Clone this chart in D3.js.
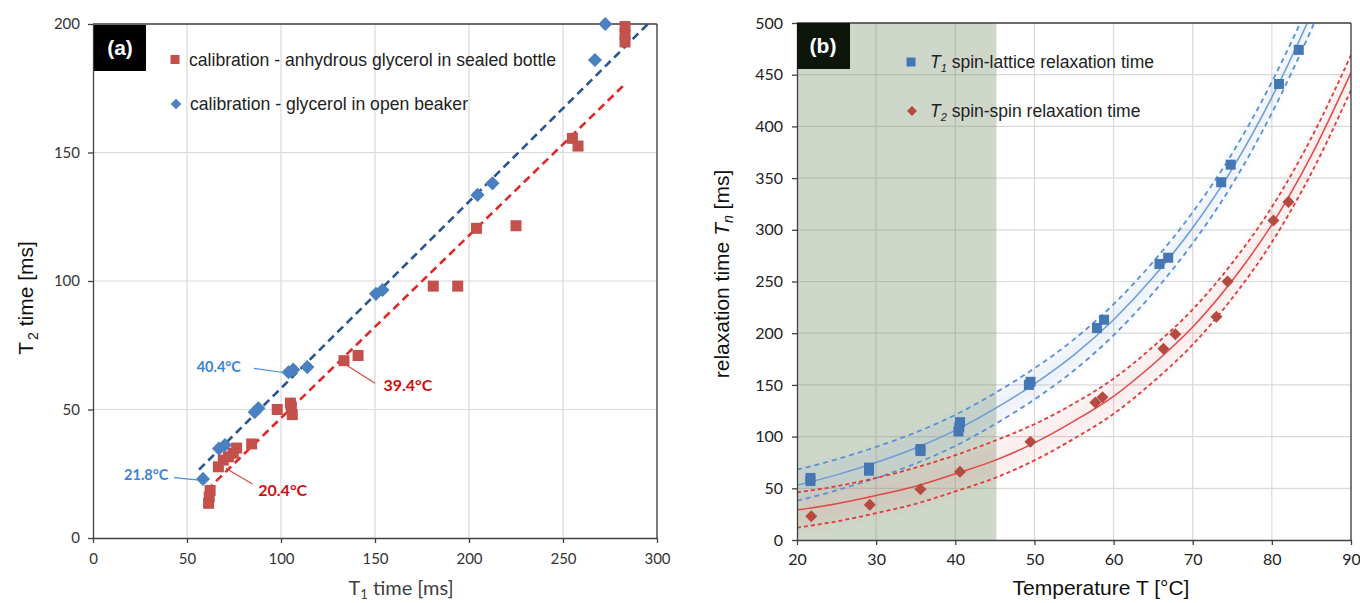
<!DOCTYPE html>
<html><head><meta charset="utf-8">
<script src="https://cdn.jsdelivr.net/npm/d3@7"></script>
<style>body{margin:0;background:#fff}svg{display:block}</style>
</head><body>
<svg id="c" width="1360" height="603"></svg>
<script>
// ---------- Panel (a) data ----------
const sealedT1 = [283, 283, 283, 255, 258, 204, 225, 181, 194, 133.5, 141, 98, 105, 105.5, 106, 84.4, 76.4, 74.6, 72, 69.3, 66.7, 62.3, 61.8, 61.5];
const sealedT2 = [199, 196, 193, 155.5, 152.5, 120.5, 121.5, 98, 98, 69, 71, 50, 52.5, 51, 48, 36.6, 35, 33, 31.6, 30.3, 27.7, 18.5, 16, 13.5];
const beakerT1 = [272.5, 267, 212.5, 204.5, 150.5, 154, 114, 106.5, 104, 88, 86, 70.2, 67, 58.5];
const beakerT2 = [200, 186, 138, 133.5, 95, 96.5, 66.5, 65.5, 64.5, 50.5, 49, 36.2, 34.8, 23];
const beakerFitT1 = [56.4, 296];
const beakerFitT2 = [26.6, 200.6];
const sealedFitT1 = [60.5, 283.5];
const sealedFitT2 = [18.6, 177.0];
const aTicksX = [0, 50, 100, 150, 200, 250, 300];
const aTicksY = [0, 50, 100, 150, 200];
const aLegend = ["calibration - anhydrous glycerol in sealed bottle", "calibration - glycerol in open beaker"];
const annLabels = ["40.4°C", "21.8°C", "39.4°C", "20.4°C"];
const annSeries = ["beaker", "beaker", "sealed", "sealed"];
const annTextX = [78.7, 40.1, 154.5, 87.9];
const annTextY = [66.7, 24.5, 59.5, 18.7];
const annLineX1 = [85.5, 43.1, 134.7, 70.6];
const annLineY1 = [66.0, 23.5, 67.3, 27.1];
const annLineX2 = [102.1, 55.4, 150.0, 84.8];
const annLineY2 = [64.3, 22.6, 60.2, 21.0];

// ---------- Panel (b) data ----------
const t1Temp = [21.7, 21.7, 29.1, 29.1, 35.6, 35.6, 40.6, 40.5, 40.4, 49.5, 49.3, 57.9, 58.8, 65.8, 66.9, 73.6, 74.8, 80.9, 83.4];
const t1Val  = [60, 57, 70, 67, 88, 86, 114, 109, 105, 153, 150, 205, 213, 267, 273, 346, 363, 441, 474];
const t2Temp = [21.8, 29.2, 35.6, 40.6, 49.5, 57.7, 58.6, 66.3, 67.8, 73.0, 74.4, 80.2, 82.1];
const t2Val  = [23, 34, 49, 66, 95, 133, 138, 185, 199, 216, 250, 309, 327];
const fitTemp = [20, 25, 30, 35, 40, 45, 50, 55, 60, 65, 70, 75, 80, 85, 90];
const t1Fit   = [53, 63, 75, 89, 106, 127, 151, 179, 213, 254, 302, 359, 428, 509, 600];
const t1Upper = [68, 78, 90, 104, 121, 142, 166, 194, 228, 269, 317, 374, 443, 524, 615];
const t1Lower = [38, 48, 60, 74, 91, 112, 136, 164, 198, 239, 287, 344, 413, 494, 585];
const t2Fit   = [29, 35, 43, 52, 64, 77, 94, 115, 139, 170, 206, 251, 305, 372, 452];
const t2Upper = [46, 52, 60, 70, 82, 96, 112, 132, 156, 187, 223, 268, 322, 389, 469];
const t2Lower = [12, 18, 26, 35, 47, 60, 77, 98, 122, 153, 189, 234, 288, 355, 435];
const shadedTemp = [20, 45.2];
const bTicksX = [20, 30, 40, 50, 60, 70, 80, 90];
const bTicksY = [0, 50, 100, 150, 200, 250, 300, 350, 400, 450, 500];

const svg = d3.select("#c");
const defs = svg.append("defs");
defs.append("filter").attr("id", "blur").attr("x", "-20%").attr("y", "-20%").attr("width", "140%").attr("height", "140%")
  .append("feGaussianBlur").attr("stdDeviation", 4);

const tickFont = "Lato, 'Open Sans', sans-serif";
const af = "'Liberation Sans', Arial, sans-serif";
const axisCol = "#404040";
const gridCol = "#d9d9d9";

function square(g, x, y, s, col) {
  g.append("rect").attr("x", x - s / 2).attr("y", y - s / 2).attr("width", s).attr("height", s).attr("fill", col);
}
function diamond(g, x, y, s, col) {
  g.append("rect").attr("x", -s / 2).attr("y", -s / 2).attr("width", s).attr("height", s).attr("fill", col)
    .attr("transform", `translate(${x},${y}) rotate(45)`);
}

// ================= Panel (a) =================
{
  const x = d3.scaleLinear().domain([0, 300]).range([93, 657]);
  const y = d3.scaleLinear().domain([0, 200]).range([538, 24]);
  const g = svg.append("g");
  defs.append("clipPath").attr("id", "clipA").append("rect").attr("x", 93).attr("y", 24).attr("width", 564).attr("height", 514);

  g.append("g").selectAll("line").data(aTicksX.slice(1)).join("line")
    .attr("x1", d => x(d)).attr("x2", d => x(d)).attr("y1", y(0)).attr("y2", y(200))
    .attr("stroke", gridCol).attr("stroke-width", 1.2);
  g.append("g").selectAll("line").data(aTicksY.slice(1)).join("line")
    .attr("x1", x(0)).attr("x2", x(300)).attr("y1", d => y(d)).attr("y2", d => y(d))
    .attr("stroke", gridCol).attr("stroke-width", 1.2);

  g.append("line").attr("x1", x(0)).attr("x2", x(300)).attr("y1", y(200)).attr("y2", y(200)).attr("stroke", axisCol).attr("stroke-width", 1.3);
  g.append("line").attr("x1", x(300)).attr("x2", x(300)).attr("y1", y(0)).attr("y2", y(200)).attr("stroke", axisCol).attr("stroke-width", 1.3);

  const ax = g.append("g").attr("transform", `translate(0,${y(0)})`)
    .call(d3.axisBottom(x).tickValues(aTicksX).tickSize(5).tickPadding(10).tickSizeOuter(0));
  const ay = g.append("g").attr("transform", `translate(${x(0)},0)`)
    .call(d3.axisLeft(y).tickValues(aTicksY).tickSize(5).tickPadding(8).tickSizeOuter(0));
  [ax, ay].forEach(a => {
    a.select(".domain").attr("stroke", axisCol).attr("stroke-width", 1.3);
    a.selectAll(".tick line").attr("stroke", axisCol).attr("stroke-width", 1.3);
    a.selectAll(".tick text").attr("font-family", tickFont).attr("font-size", 15).attr("fill", "#333");
  });

  const pg = g.append("g").attr("clip-path", "url(#clipA)");
  pg.append("line").attr("x1", x(sealedFitT1[0])).attr("y1", y(sealedFitT2[0])).attr("x2", x(sealedFitT1[1])).attr("y2", y(sealedFitT2[1]))
    .attr("stroke", "#e02828").attr("stroke-width", 2.6).attr("stroke-dasharray", "8,5");
  pg.append("line").attr("x1", x(beakerFitT1[0])).attr("y1", y(beakerFitT2[0])).attr("x2", x(beakerFitT1[1])).attr("y2", y(beakerFitT2[1]))
    .attr("stroke", "#2b5490").attr("stroke-width", 2.6).attr("stroke-dasharray", "8,5");

  const mg = g.append("g");
  sealedT1.forEach((v, i) => square(mg, x(v), y(sealedT2[i]), 11, "#c4504c"));
  beakerT1.forEach((v, i) => diamond(mg, x(v), y(beakerT2[i]), 10, "#4a7fc0"));

  annLabels.forEach((t, i) => {
    const col = annSeries[i] === "beaker" ? "#3d84d6" : "#cc1010";
    const lcol = annSeries[i] === "beaker" ? "#4a8fd8" : "#d84848";
    g.append("line").attr("x1", x(annLineX1[i])).attr("y1", y(annLineY1[i])).attr("x2", x(annLineX2[i])).attr("y2", y(annLineY2[i]))
      .attr("stroke", lcol).attr("stroke-width", 1.2);
    g.append("text").attr("x", x(annTextX[i])).attr("y", y(annTextY[i])).attr("dy", "0.35em")
      .attr("text-anchor", i < 2 ? "end" : "start")
      .attr("font-family", tickFont).attr("font-weight", 700).attr("font-size", i < 2 ? 14.5 : 16)
      .attr("fill", col).text(t);
  });

  g.append("rect").attr("x", 94).attr("y", 25).attr("width", 52).attr("height", 46).attr("fill", "#000");
  g.append("text").attr("x", 120).attr("y", 55).attr("text-anchor", "middle").attr("fill", "#fff")
    .attr("font-family", af).attr("font-weight", 700).attr("font-size", 21).text("(a)");

  square(g, 175, 59.5, 9, "#c4504c");
  g.append("text").attr("x", 189).attr("y", 65.5).attr("font-family", af).attr("font-size", 19)
    .attr("textLength", 367).attr("lengthAdjust", "spacingAndGlyphs").attr("fill", "#222").text(aLegend[0]);
  diamond(g, 176, 104, 7.5, "#4a7fc0");
  g.append("text").attr("x", 190).attr("y", 109.5).attr("font-family", af).attr("font-size", 19)
    .attr("textLength", 278).attr("lengthAdjust", "spacingAndGlyphs").attr("fill", "#222").text(aLegend[1]);

  const xt = g.append("text").attr("x", 401).attr("y", 595).attr("text-anchor", "middle")
    .attr("font-family", tickFont).attr("font-size", 20).attr("fill", "#404040");
  xt.append("tspan").text("T");
  xt.append("tspan").attr("font-size", 13).attr("dy", 4).text("1");
  xt.append("tspan").attr("dy", -4).text(" time [ms]");

  const yt = g.append("text").attr("transform", "translate(33,298) rotate(-90)").attr("text-anchor", "middle")
    .attr("font-family", af).attr("font-size", 21).attr("fill", "#111");
  yt.append("tspan").text("T");
  yt.append("tspan").attr("font-size", 14).attr("dy", 5).attr("dx", 2).text("2");
  yt.append("tspan").attr("dy", -5).text(" time [ms]");
}

// ================= Panel (b) =================
{
  const x = d3.scaleLinear().domain([20, 90]).range([797, 1351]);
  const y = d3.scaleLinear().domain([0, 500]).range([540, 23]);
  const g = svg.append("g");
  defs.append("clipPath").attr("id", "clipB").append("rect").attr("x", 797).attr("y", 23).attr("width", 554).attr("height", 517);

  g.append("g").selectAll("line").data(bTicksX.slice(1)).join("line")
    .attr("x1", d => x(d)).attr("x2", d => x(d)).attr("y1", y(0)).attr("y2", y(500))
    .attr("stroke", gridCol).attr("stroke-width", 1.2);
  g.append("g").selectAll("line").data(bTicksY.slice(1)).join("line")
    .attr("x1", x(20)).attr("x2", x(90)).attr("y1", d => y(d)).attr("y2", d => y(d))
    .attr("stroke", gridCol).attr("stroke-width", 1.2);

  g.append("rect").attr("x", x(shadedTemp[0])).attr("y", y(500)).attr("width", x(shadedTemp[1]) - x(shadedTemp[0]))
    .attr("height", y(0) - y(500)).attr("fill", "#6e8a62").attr("fill-opacity", 0.34);

  const pg = g.append("g").attr("clip-path", "url(#clipB)");
  const line = (arr) => d3.line().x((d, i) => x(fitTemp[i])).y(d => y(d)).curve(d3.curveMonotoneX)(arr);
  const area = (lo, hi) => d3.area().x((d, i) => x(fitTemp[i])).y0((d, i) => y(lo[i])).y1(d => y(d)).curve(d3.curveMonotoneX)(hi);

  pg.append("path").attr("d", area(t1Lower, t1Upper)).attr("fill", "#6f9ad8").attr("fill-opacity", 0.12).attr("filter", "url(#blur)");
  pg.append("path").attr("d", area(t2Lower, t2Upper)).attr("fill", "#e06a6a").attr("fill-opacity", 0.12).attr("filter", "url(#blur)");

  [t1Upper, t1Lower].forEach(a => pg.append("path").attr("d", line(a)).attr("fill", "none")
    .attr("stroke", "#5b8fd6").attr("stroke-width", 1.8).attr("stroke-dasharray", "5,4"));
  [t2Upper, t2Lower].forEach(a => pg.append("path").attr("d", line(a)).attr("fill", "none")
    .attr("stroke", "#e03a3a").attr("stroke-width", 1.8).attr("stroke-dasharray", "4,3"));
  pg.append("path").attr("d", line(t1Fit)).attr("fill", "none").attr("stroke", "#6f9bd3").attr("stroke-width", 1.5);
  pg.append("path").attr("d", line(t2Fit)).attr("fill", "none").attr("stroke", "#e04848").attr("stroke-width", 1.5);

  g.append("line").attr("x1", x(20)).attr("x2", x(90)).attr("y1", y(500)).attr("y2", y(500)).attr("stroke", axisCol).attr("stroke-width", 1.3);
  g.append("line").attr("x1", x(90)).attr("x2", x(90)).attr("y1", y(0)).attr("y2", y(500)).attr("stroke", axisCol).attr("stroke-width", 1.3);

  const ax = g.append("g").attr("transform", `translate(0,${y(0)})`)
    .call(d3.axisBottom(x).tickValues(bTicksX).tickSize(5).tickPadding(9).tickSizeOuter(0));
  const ay = g.append("g").attr("transform", `translate(${x(20)},0)`)
    .call(d3.axisLeft(y).tickValues(bTicksY).tickSize(5).tickPadding(9).tickSizeOuter(0));
  [ax, ay].forEach(a => {
    a.select(".domain").attr("stroke", axisCol).attr("stroke-width", 1.3);
    a.selectAll(".tick line").attr("stroke", axisCol).attr("stroke-width", 1.3);
    a.selectAll(".tick text").attr("font-family", tickFont).attr("font-size", 16).attr("fill", "#222");
  });

  const mg = g.append("g");
  t1Temp.forEach((v, i) => square(mg, x(v), y(t1Val[i]), 10, "#4577b4"));
  t2Temp.forEach((v, i) => diamond(mg, x(v), y(t2Val[i]), 8.5, "#b44a40"));

  g.append("rect").attr("x", 797).attr("y", 23).attr("width", 53).attr("height", 46).attr("fill", "#0e160c");
  g.append("text").attr("x", 823).attr("y", 53).attr("text-anchor", "middle").attr("fill", "#fff")
    .attr("font-family", af).attr("font-weight", 700).attr("font-size", 21).text("(b)");

  square(g, 911, 62, 9, "#4577b4");
  const l1 = g.append("text").attr("x", 930).attr("y", 68).attr("font-family", af).attr("font-size", 17.5).attr("fill", "#222");
  l1.append("tspan").attr("font-style", "italic").text("T");
  l1.append("tspan").attr("font-style", "italic").attr("font-size", 11).attr("dy", 4).text("1");
  l1.append("tspan").attr("dy", -4).text(" spin-lattice relaxation time");
  diamond(g, 912, 111, 7, "#b44a40");
  const l2 = g.append("text").attr("x", 930).attr("y", 117).attr("font-family", af).attr("font-size", 17.5).attr("fill", "#222");
  l2.append("tspan").attr("font-style", "italic").text("T");
  l2.append("tspan").attr("font-style", "italic").attr("font-size", 11).attr("dy", 4).text("2");
  l2.append("tspan").attr("dy", -4).text(" spin-spin relaxation time");

  g.append("text").attr("x", 1101).attr("y", 595).attr("text-anchor", "middle").attr("font-family", af)
    .attr("font-size", 21).attr("fill", "#111").text("Temperature T [°C]");
  const yt = g.append("text").attr("transform", "translate(729,274) rotate(-90)").attr("text-anchor", "middle")
    .attr("font-family", af).attr("font-size", 21).attr("fill", "#111");
  yt.append("tspan").text("relaxation time ");
  yt.append("tspan").attr("font-style", "italic").text("T");
  yt.append("tspan").attr("font-style", "italic").attr("font-size", 14).attr("dy", 4).text("n");
  yt.append("tspan").attr("dy", -4).text("  [ms]");
}
</script>
</body></html>
